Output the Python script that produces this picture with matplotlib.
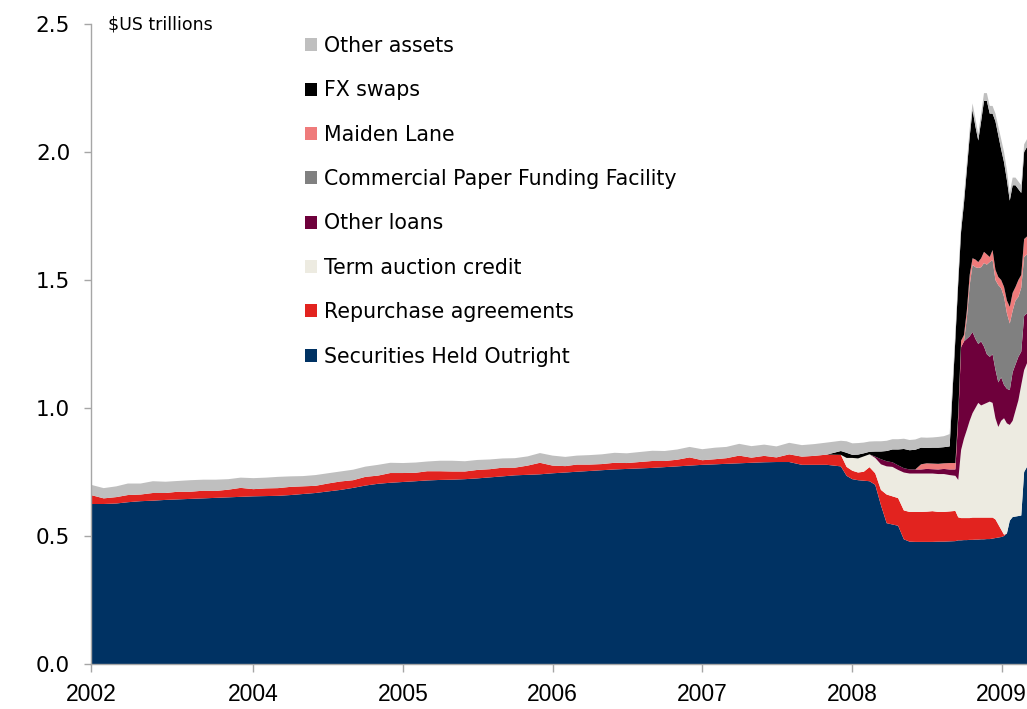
import pandas as pd
import matplotlib
matplotlib.use("Agg")
import matplotlib.pyplot as plt
from matplotlib import font_manager
from matplotlib.patches import Patch

# ---- data ($US trillions) ----
# monthly points Dec 2002 - Nov 2007, fortnightly Dec 2007 - Aug 2008, weekly Sep 2008 - Mar 2009
monthly_dates = pd.date_range("2002-12-01", "2007-11-01", freq="MS")
fortnight_dates = pd.date_range("2007-12-05", "2008-08-27", freq="2W-WED")
weekly_dates = pd.date_range("2008-09-10", "2009-03-04", freq="W-WED")
dates = monthly_dates.append(fortnight_dates).append(weekly_dates)

securities = [
    0.625, 0.625, 0.627, 0.632, 0.636, 0.638, 0.641, 0.643, 0.645, 0.647, 0.649, 0.651,
    0.653, 0.655, 0.656, 0.657, 0.660, 0.664, 0.668, 0.674, 0.680, 0.688, 0.697, 0.704,
    0.708, 0.711, 0.714, 0.717, 0.719, 0.720, 0.722, 0.725, 0.729, 0.733, 0.737, 0.739,
    0.741, 0.745, 0.748, 0.751, 0.754, 0.757, 0.760, 0.762, 0.764, 0.766, 0.769, 0.772,
    0.775, 0.778, 0.780, 0.782, 0.784, 0.786, 0.788, 0.789, 0.789, 0.778, 0.778, 0.778,
    0.772, 0.735, 0.722, 0.718, 0.716, 0.714, 0.700, 0.620, 0.550, 0.545,
    0.540, 0.487, 0.478, 0.477, 0.477, 0.477, 0.477, 0.478, 0.478, 0.479,
    0.480, 0.483, 0.483, 0.484, 0.484, 0.485, 0.485, 0.486, 0.486, 0.487, 0.487, 0.488, 0.488,
    0.490, 0.492, 0.494, 0.496, 0.500, 0.510, 0.560, 0.574, 0.576, 0.578, 0.580, 0.750, 0.770,
]
repo = [
    0.035, 0.022, 0.025, 0.028, 0.026, 0.030, 0.027, 0.030, 0.028, 0.030, 0.027, 0.030,
    0.035, 0.028, 0.030, 0.030, 0.032, 0.030, 0.028, 0.031, 0.033, 0.030, 0.034, 0.032,
    0.038, 0.035, 0.033, 0.036, 0.034, 0.032, 0.030, 0.033, 0.032, 0.034, 0.030, 0.036,
    0.045, 0.030, 0.025, 0.028, 0.025, 0.024, 0.026, 0.023, 0.025, 0.027, 0.024, 0.026,
    0.032, 0.018, 0.020, 0.022, 0.030, 0.020, 0.025, 0.018, 0.030, 0.032, 0.035, 0.040,
    0.045, 0.035, 0.033, 0.030, 0.035, 0.055, 0.045, 0.060, 0.112, 0.110,
    0.108, 0.113, 0.116, 0.117, 0.117, 0.118, 0.120, 0.116, 0.116, 0.117,
    0.118, 0.090, 0.087, 0.086, 0.086, 0.085, 0.087, 0.086, 0.086, 0.085, 0.085, 0.084, 0.084,
    0.082, 0.073, 0.051, 0.029, 0.005, 0.0, 0.0, 0.0, 0.0, 0.0, 0.0, 0.0, 0.0,
]
term_auction = [0.0] * 60 + [
    0.0, 0.035, 0.050, 0.055, 0.060, 0.050, 0.060, 0.100, 0.110, 0.115,
    0.110, 0.148, 0.150, 0.150, 0.150, 0.149, 0.147, 0.148, 0.148, 0.142,
    0.137, 0.146, 0.266, 0.310, 0.344, 0.380, 0.408, 0.428, 0.448, 0.438, 0.443, 0.448, 0.453,
    0.448, 0.395, 0.381, 0.425, 0.455, 0.430, 0.374, 0.376, 0.414, 0.452, 0.510, 0.398, 0.405,
]
other_loans = [0.0] * 60 + [
    0.0, 0.0, 0.0, 0.0, 0.0, 0.0, 0.005, 0.020, 0.020, 0.018,
    0.018, 0.017, 0.016, 0.016, 0.016, 0.018, 0.017, 0.018, 0.020, 0.022,
    0.025, 0.240, 0.402, 0.380, 0.356, 0.330, 0.317, 0.270, 0.230, 0.250, 0.225, 0.190, 0.175,
    0.190, 0.190, 0.174, 0.170, 0.130, 0.135, 0.136, 0.190, 0.180, 0.170, 0.130, 0.212, 0.195,
]
cpff = [0.0] * 80 + [
    0.0, 0.0, 0.0, 0.0, 0.080, 0.200, 0.262, 0.280, 0.297, 0.290, 0.326, 0.350, 0.370,
    0.368, 0.350, 0.380, 0.348, 0.344, 0.295, 0.260, 0.240, 0.250, 0.234, 0.250, 0.230, 0.230,
]
maiden_lane = [0.0] * 74 + [
    0.020, 0.022, 0.022, 0.022, 0.022, 0.025,
    0.025, 0.020, 0.025, 0.025, 0.030, 0.040, 0.026, 0.030, 0.023, 0.035, 0.044, 0.040, 0.020,
    0.039, 0.040, 0.032, 0.032, 0.039, 0.050, 0.065, 0.070, 0.053, 0.066, 0.050, 0.070, 0.070,
]
fx_swaps = [0.0] * 60 + [
    0.015, 0.020, 0.012, 0.015, 0.012, 0.010, 0.020, 0.030, 0.040, 0.050,
    0.062, 0.075, 0.075, 0.077, 0.065, 0.060, 0.062, 0.063, 0.063, 0.065,
    0.485, 0.510, 0.427, 0.515, 0.550, 0.540, 0.580, 0.520, 0.475, 0.535, 0.590, 0.600, 0.560,
    0.533, 0.580, 0.553, 0.510, 0.487, 0.470, 0.415, 0.420, 0.397, 0.355, 0.320, 0.340, 0.350,
]
other_assets = [
    0.040, 0.040, 0.042, 0.045, 0.043, 0.046, 0.044, 0.042, 0.045, 0.043, 0.044, 0.041,
    0.040, 0.043, 0.042, 0.044, 0.041, 0.040, 0.042, 0.040, 0.039, 0.041, 0.040, 0.042,
    0.040, 0.039, 0.040, 0.038, 0.041, 0.042, 0.040, 0.039, 0.038, 0.036, 0.037, 0.036,
    0.038, 0.039, 0.036, 0.035, 0.037, 0.038, 0.039, 0.038, 0.039, 0.040, 0.039, 0.040,
    0.041, 0.043, 0.045, 0.044, 0.046, 0.045, 0.044, 0.043, 0.045, 0.045, 0.046, 0.047,
    0.040, 0.045, 0.045, 0.045, 0.042, 0.040, 0.040, 0.040, 0.040, 0.040,
    0.040, 0.040, 0.040, 0.040, 0.040, 0.040, 0.040, 0.042, 0.043, 0.048,
    0.030, 0.030, 0.030, 0.030, 0.030, 0.030, 0.025, 0.030, 0.025, 0.030, 0.030, 0.030, 0.030,
    0.030, 0.030, 0.035, 0.040, 0.040, 0.040, 0.030, 0.030, 0.030, 0.030, 0.030, 0.030, 0.030,
]

labels = ["Securities Held Outright", "Repurchase agreements", "Term auction credit",
          "Other loans", "Commercial Paper Funding Facility", "Maiden Lane",
          "FX swaps", "Other assets"]
colors = ["#003263", "#E2231F", "#EDEBE1", "#6E003B", "#808080", "#EF7B7B",
          "#000000", "#BFBFBF"]

tick_dates = ["2002-12-01", "2004-01-01", "2005-01-01", "2006-01-01",
              "2007-01-01", "2008-01-01", "2009-01-01"]
tick_labels = ["2002", "2004", "2005", "2006", "2007", "2008", "2009"]


def decimal_year(d):
    d = pd.Timestamp(d)
    days = 366 if d.is_leap_year else 365
    return d.year + (d.dayofyear - 1) / days


x = [decimal_year(d) for d in dates]

# narrow font for the year labels if there is one
try:
    font_manager.findfont("Liberation Sans Narrow", fallback_to_default=False)
    year_font, year_size = "Liberation Sans Narrow", 19.5
except Exception:
    year_font, year_size = "Liberation Sans", 16.5

fig = plt.figure(figsize=(10.27, 7.09), dpi=100)
ax = fig.add_axes([91 / 1027, 45 / 709, 936 / 1027, 640 / 709])

series = [securities, repo, term_auction, other_loans, cpff, maiden_lane,
          fx_swaps, other_assets]
ax.stackplot(x, *series, colors=colors, linewidth=0)

ax.set_xlim(x[0], x[-1])
ax.set_ylim(0, 2.5)
ax.set_yticks([0.0, 0.5, 1.0, 1.5, 2.0, 2.5])
ax.set_yticklabels(["0.0", "0.5", "1.0", "1.5", "2.0", "2.5"])
ax.set_xticks([decimal_year(d) for d in tick_dates])
ax.set_xticklabels(tick_labels)

for side in ["top", "right"]:
    ax.spines[side].set_visible(False)
for side in ["left", "bottom"]:
    ax.spines[side].set_color("#A6A6A6")
    ax.spines[side].set_linewidth(1)

ax.tick_params(axis="y", direction="out", length=5, width=1, color="#A6A6A6",
               pad=10, labelsize=15.5)
ax.tick_params(axis="x", direction="out", length=6, width=1, color="#A6A6A6",
               pad=8, labelsize=year_size)
for lbl in ax.get_xticklabels():
    lbl.set_fontfamily([year_font, "DejaVu Sans"])

fig.text(108 / 1027, 1 - 25 / 709, "$US trillions", fontsize=12.5,
         ha="left", va="center")

handles = [Patch(facecolor=c, edgecolor="none", label=l) for c, l in zip(colors, labels)]
fig.legend(handles[::-1], labels[::-1], loc="upper left",
           bbox_to_anchor=(305 / 1027, 1 - 36 / 709), bbox_transform=fig.transFigure,
           frameon=False, fontsize=14.8, handlelength=0.6, handleheight=0.6,
           handletextpad=0.3, labelspacing=1.185, borderpad=0, borderaxespad=0)

fig.savefig("out.png", dpi=100)
